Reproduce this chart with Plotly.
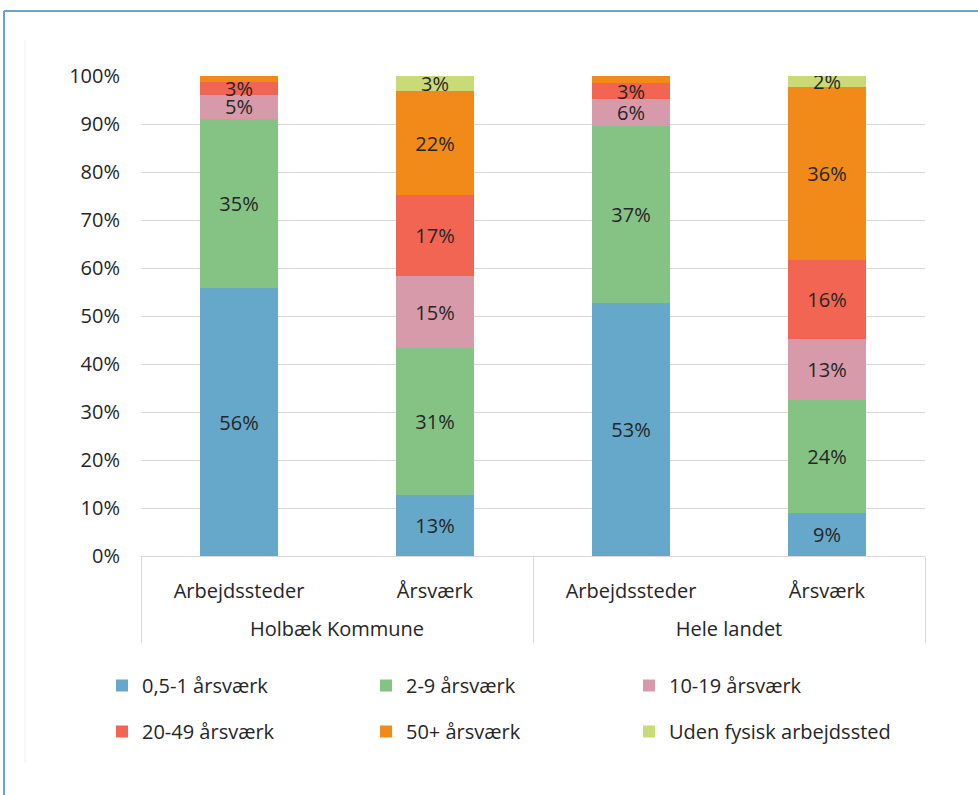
import plotly.graph_objects as go

# === Data ===
regions = ["Holbæk Kommune", "Holbæk Kommune", "Hele landet", "Hele landet"]
measures = ["Arbejdssteder", "Årsværk", "Arbejdssteder", "Årsværk"]

series_names = [
    "0,5-1 årsværk",
    "2-9 årsværk",
    "10-19 årsværk",
    "20-49 årsværk",
    "50+ årsværk",
    "Uden fysisk arbejdssted",
]
v_05_1 = [55.8, 12.7, 52.7, 9.0]
v_2_9 = [35.3, 30.6, 36.9, 23.6]
v_10_19 = [4.9, 15.0, 5.6, 12.6]
v_20_49 = [2.8, 16.9, 3.3, 16.4]
v_50 = [1.2, 21.6, 1.5, 36.1]
v_uden = [0.0, 3.3, 0.0, 2.4]
series_values = [v_05_1, v_2_9, v_10_19, v_20_49, v_50, v_uden]

y_ticks = list(range(0, 101, 10))
y_ticktext = [f"{v}%" for v in y_ticks]

# === Colors ===
COLORS = ["#65A8C9", "#85C385", "#D69AAA", "#F26552", "#F18A18", "#C9DB76"]
FRAME_COLOR = "#6BA4C8"
TEXT_COLOR = "#262626"
GRID_COLOR = "#D9D9D9"
FONT = "Open Sans"
FS = 20

# plot area in pixels (978 x 795 page)
L, R, T, B = 141, 53, 76, 239
PW = 978 - L - R
PH = 795 - T - B


def px_x(px):
    return (px - L) / PW


def px_y(py):
    return (795 - B - py) / PH


# one legend per column, two rows each
legend_cols = {"legend": 102, "legend2": 366, "legend3": 629}
legend_of = ["legend", "legend2", "legend3", "legend", "legend2", "legend3"]

# outer group labels pushed down one line so they sit below the inner labels
outer = ["<br>" + r for r in regions]

fig = go.Figure()
for i, (name, vals) in enumerate(zip(series_names, series_values)):
    labels = [f"{v:.0f}%" if v >= 2 else "" for v in vals]
    fig.add_trace(go.Bar(
        x=[outer, measures],
        y=vals,
        name=name,
        marker=dict(color=COLORS[i], line=dict(width=0)),
        text=labels,
        textposition="inside",
        insidetextanchor="middle",
        constraintext="none",
        textangle=0,
        textfont=dict(family=FONT, size=FS, color=TEXT_COLOR),
        legend=legend_of[i],
        legendgroup=name,
        hoverinfo="skip",
    ))

legend_common = dict(
    orientation="v",
    traceorder="grouped",
    tracegroupgap=17,
    font=dict(family=FONT, size=FS, color=TEXT_COLOR),
    bgcolor="rgba(0,0,0,0)",
    borderwidth=0,
    itemwidth=30,
    xanchor="left",
    yanchor="top",
    y=px_y(666),
)

layout_legends = {k: dict(legend_common, x=px_x(v)) for k, v in legend_cols.items()}

fig.update_layout(
    barmode="stack",
    bargap=0.6,
    width=978,
    height=795,
    margin=dict(l=L, r=R, t=T, b=B, autoexpand=False),
    plot_bgcolor="white",
    paper_bgcolor="white",
    font=dict(family=FONT, size=FS, color=TEXT_COLOR),
    showlegend=True,
    xaxis=dict(
        type="multicategory",
        showline=True,
        linecolor=GRID_COLOR,
        linewidth=1,
        showdividers=True,
        dividercolor=GRID_COLOR,
        dividerwidth=1,
        ticks="",
        ticklabelstandoff=17,
        tickfont=dict(family=FONT, size=FS, color=TEXT_COLOR),
    ),
    yaxis=dict(
        range=[0, 100],
        tickvals=y_ticks,
        ticktext=y_ticktext,
        showgrid=True,
        gridcolor=GRID_COLOR,
        gridwidth=1,
        zeroline=False,
        showline=False,
        ticklabelstandoff=20,
        tickfont=dict(family=FONT, size=FS, color=TEXT_COLOR),
    ),
    **layout_legends,
)

# outer frame (blue) and faint chart-area edge
fig.add_shape(type="line", xref="paper", yref="paper",
              x0=px_x(4), x1=px_x(990), y0=px_y(11), y1=px_y(11),
              line=dict(color=FRAME_COLOR, width=2))
fig.add_shape(type="line", xref="paper", yref="paper",
              x0=px_x(4), x1=px_x(4), y0=px_y(11), y1=px_y(800),
              line=dict(color=FRAME_COLOR, width=2))
fig.add_shape(type="line", xref="paper", yref="paper",
              x0=px_x(25), x1=px_x(25), y0=px_y(40), y1=px_y(763),
              line=dict(color="#F0F0F0", width=1))

fig.write_html("out.html", config={"displayModeBar": False},
               post_script="document.body.style.margin='0';")
